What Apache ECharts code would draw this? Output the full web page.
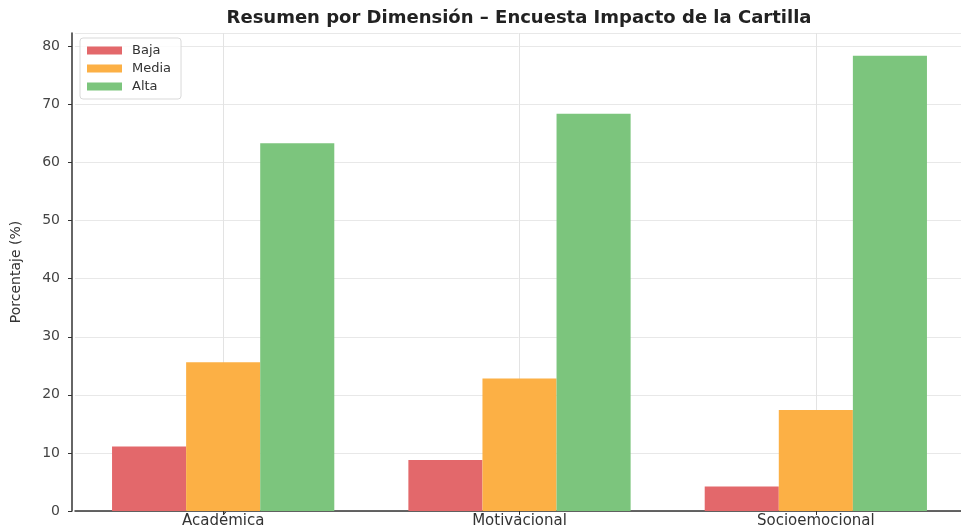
<!DOCTYPE html>
<html>
<head>
<meta charset="utf-8">
<script src="https://cdn.jsdelivr.net/npm/echarts@6/dist/echarts.min.js"></script>
<style>
  html, body { margin: 0; padding: 0; background: #fff; }
  #main { width: 961px; height: 529px; }
</style>
</head>
<body>
<div id="main"></div>
<script>
// dimensiones evaluadas
var dimensiones = ['Académica', 'Motivacional', 'Socioemocional'];
// porcentaje por nivel
var baja = [11.1, 8.8, 4.2];
var media = [25.6, 22.8, 17.4];
var alta = [63.3, 68.4, 78.4];
var niveles = ['Baja', 'Media', 'Alta'];
var colores = ['#e3686b', '#fcb045', '#7cc57d'];

var chart = echarts.init(document.getElementById('main'));

function serie(nombre, datos) {
  return {
    name: nombre,
    type: 'bar',
    barGap: '0%',
    barCategoryGap: '25%',
    data: datos
  };
}

chart.setOption({
  animation: false,
  color: colores,
  title: {
    text: 'Resumen por Dimensión – Encuesta Impacto de la Cartilla',
    left: 519,
    textAlign: 'center',
    top: 9,
    padding: 0,
    textStyle: {
      fontFamily: 'DejaVu Sans',
      fontWeight: 'bold',
      fontSize: 18,
      color: '#222'
    }
  },
  legend: {
    data: niveles,
    orient: 'vertical',
    left: 80,
    top: 38,
    padding: [6, 10, 6, 7],
    itemWidth: 35,
    itemHeight: 8,
    itemGap: 5,
    borderColor: '#d9d9d9',
    borderWidth: 1,
    borderRadius: 3,
    backgroundColor: 'rgba(255,255,255,0.8)',
    icon: 'rect',
    textStyle: {
      fontFamily: 'DejaVu Sans',
      fontSize: 13,
      color: '#333',
      padding: [0, 0, 0, 5]
    }
  },
  grid: {
    left: 75,
    right: -3,
    top: 33,
    bottom: 18,
    outerBoundsMode: 'none'
  },
  xAxis: {
    type: 'category',
    data: dimensiones,
    axisLine: { lineStyle: { color: '#333', width: 1.5 } },
    axisTick: { show: true, alignWithLabel: true, length: 4, lineStyle: { color: '#333' } },
    splitLine: { show: true, alignWithLabel: true, lineStyle: { color: '#e3e3e3' } },
    axisLabel: {
      fontFamily: 'DejaVu Sans',
      fontSize: 15,
      color: '#333',
      margin: 3
    }
  },
  yAxis: {
    type: 'value',
    min: 0,
    max: 82.3,
    interval: 10,
    offset: 3,
    name: 'Porcentaje (%)',
    nameLocation: 'middle',
    nameRotate: 90,
    nameGap: 49,
    nameTextStyle: {
      fontFamily: 'DejaVu Sans',
      fontSize: 14,
      color: '#333'
    },
    axisLine: { show: true, lineStyle: { color: '#333', width: 1.5 } },
    axisTick: { show: true, length: 4, lineStyle: { color: '#333' } },
    splitLine: { show: true, lineStyle: { color: '#e8e8e8' } },
    axisLabel: {
      showMaxLabel: false,
      fontFamily: 'DejaVu Sans',
      fontSize: 14,
      color: '#444',
      margin: 12
    }
  },
  series: [
    serie(niveles[0], baja),
    serie(niveles[1], media),
    serie(niveles[2], alta)
  ]
});
</script>
</body>
</html>
